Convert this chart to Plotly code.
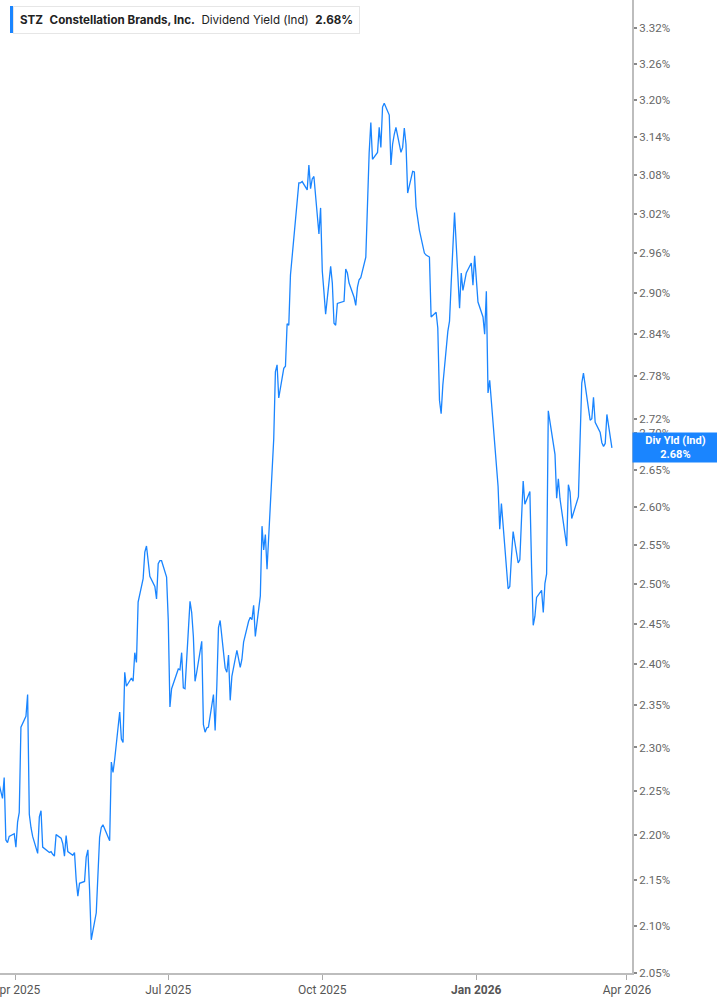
import pandas as pd
import plotly.graph_objects as go
import math

# ---- data -------------------------------------------------------------
start_date = "2025-03-21"
end_date = "2026-03-23"
market_holidays = ["2025-04-18", "2025-05-26", "2025-06-19", "2025-07-04",
                   "2025-09-01", "2025-11-27", "2025-12-25", "2026-01-01",
                   "2026-01-19", "2026-02-16"]

div_yield = [
    2.265, 2.241, 2.265, 2.194, 2.191, 2.198, 2.201, 2.186, 2.214, 2.225,
    2.324, 2.337, 2.363, 2.223, 2.208, 2.198, 2.179, 2.220, 2.227, 2.186,
    2.180, 2.181, 2.178, 2.176, 2.200, 2.196, 2.190, 2.176, 2.199, 2.181,
    2.177, 2.180, 2.150, 2.132, 2.146, 2.148, 2.175, 2.183, 2.139, 2.085,
    2.114, 2.158, 2.197, 2.208, 2.211, 2.193, 2.283, 2.271, 2.286, 2.342,
    2.310, 2.306, 2.390, 2.373, 2.383, 2.379, 2.414, 2.402, 2.477, 2.507,
    2.541, 2.549, 2.510, 2.497, 2.481, 2.526, 2.530, 2.530, 2.509, 2.455,
    2.348, 2.370, 2.394, 2.393, 2.414, 2.371, 2.370, 2.478, 2.464, 2.434,
    2.379, 2.390, 2.428, 2.327, 2.318, 2.323, 2.324, 2.363, 2.320, 2.373,
    2.445, 2.454, 2.395, 2.390, 2.411, 2.356, 2.385, 2.417, 2.404, 2.396,
    2.406, 2.427, 2.453, 2.458, 2.455, 2.473, 2.434, 2.485, 2.575, 2.544,
    2.564, 2.519, 2.692, 2.786, 2.796, 2.749, 2.791, 2.794, 2.855, 2.853,
    2.927, 3.012, 3.028, 3.068, 3.068, 3.070, 3.057, 3.096, 3.059, 3.074,
    3.078, 2.989, 3.029, 2.933, 2.902, 2.869, 2.940, 2.915, 2.856, 2.853,
    2.885, 2.887, 2.888, 2.936, 2.930, 2.915, 2.894, 2.882, 2.909, 2.920,
    2.923, 2.954, 3.037, 3.115, 3.164, 3.105, 3.116, 3.156, 3.124, 3.189,
    3.195, 3.176, 3.096, 3.129, 3.145, 3.156, 3.116, 3.124, 3.155, 3.129,
    3.052, 3.086, 3.085, 3.031, 2.995, 2.960, 2.957, 2.956, 2.954, 2.865,
    2.872, 2.849, 2.746, 2.727, 2.767, 2.844, 2.859, 2.915, 2.983, 3.022,
    2.878, 2.930, 2.904, 2.930, 2.945, 2.912, 2.956, 2.887, 2.865, 2.840,
    2.903, 2.756, 2.774, 2.687, 2.668, 2.628, 2.571, 2.605, 2.494, 2.497,
    2.535, 2.568, 2.527, 2.531, 2.584, 2.635, 2.604, 2.621, 2.523, 2.448,
    2.459, 2.483, 2.492, 2.464, 2.501, 2.513, 2.731, 2.671, 2.612, 2.638,
    2.611, 2.561, 2.549, 2.630, 2.620, 2.585, 2.607, 2.614, 2.692, 2.770,
    2.784, 2.736, 2.718, 2.720, 2.750, 2.715, 2.701, 2.687, 2.682, 2.686,
    2.726, 2.680,
]

y_tick_vals = [2.05, 2.10, 2.15, 2.20, 2.25, 2.30, 2.35, 2.40, 2.45, 2.50,
               2.55, 2.60, 2.65, 2.70, 2.72, 2.78, 2.84, 2.90, 2.96, 3.02,
               3.08, 3.14, 3.20, 3.26, 3.32]
x_tick_vals = ["2025-04-01", "2025-07-01", "2025-10-01", "2026-01-01", "2026-04-01"]
x_tick_text = ["Apr 2025", "Jul 2025", "Oct 2025", "<b>Jan 2026</b>", "Apr 2026"]

ticker = "STZ"
company = "Constellation Brands, Inc."
metric = "Dividend Yield (Ind)"
short_metric = "Div Yld (Ind)"
last_value = div_yield[-1]

# ---- figure -----------------------------------------------------------
dates = pd.bdate_range(start_date, end_date, freq="C", holidays=market_holidays)
dates = dates[:len(div_yield)]

LINE = "#1a85ff"

fig = go.Figure()
fig.add_trace(go.Scatter(
    x=dates, y=div_yield, mode="lines",
    line=dict(color=LINE, width=1.3),
    hoverinfo="skip", showlegend=False,
))

fig.update_layout(
    width=717, height=1005,
    margin=dict(l=0, r=85, t=0, b=32),
    paper_bgcolor="white", plot_bgcolor="white",
    font=dict(family="Roboto, Arial, sans-serif", color="#666666", size=11),
    showlegend=False,
)

fig.update_xaxes(
    range=["2025-03-22 12:00", "2026-04-04"],
    automargin=False,
    tickvals=x_tick_vals, ticktext=x_tick_text,
    showgrid=False, zeroline=False,
    showline=True, linecolor="#bdbdbd", linewidth=1.5,
    ticks="outside", ticklen=5, tickcolor="#aaaaaa", tickwidth=1,
    ticklabeloverflow="allow",
    tickfont=dict(size=12, color="#555555", family="Roboto, Arial, sans-serif"),
)

fig.update_yaxes(
    type="log",
    range=[math.log10(2.05), math.log10(3.368)],
    automargin=False,
    side="right",
    tickvals=y_tick_vals,
    ticktext=[f"{v:.2f}%" for v in y_tick_vals],
    showgrid=False, zeroline=False,
    showline=True, linecolor="#bdbdbd", linewidth=2,
    ticks="outside", ticklen=3, tickcolor="#888888", tickwidth=2,
    tickfont=dict(size=11.5, color="#666666"),
)

# header box
nb = "\u00a0"
header = (f"<b>{ticker}</b>{nb} <b>{company}</b>{nb} {metric}{nb} <b>{last_value:.2f}%</b>")
fig.add_annotation(
    xref="paper", yref="paper", x=13 / 632, y=1 - 6 / 973,
    xanchor="left", yanchor="top", showarrow=False,
    text=header, align="left",
    font=dict(family="Inter, Arial, sans-serif", size=11.6, color="#222222"),
    bgcolor="white", bordercolor="#e6e6e6", borderwidth=1, borderpad=6,
)
fig.add_shape(
    type="rect", xref="paper", yref="paper",
    x0=10 / 632, x1=13.5 / 632, y0=1 - 33 / 973, y1=1 - 6 / 973,
    fillcolor=LINE, line=dict(width=0), layer="above",
)

# last value label on the right
fig.add_annotation(
    xref="paper", yref="y", x=1, y=math.log10(last_value),
    xanchor="left", yanchor="middle", showarrow=False,
    text=f"<b>{short_metric}</b><br><b>{last_value:.2f}%</b>",
    font=dict(family="Roboto, Arial, sans-serif", size=11, color="white"),
    bgcolor=LINE, borderpad=1, width=83, align="center",
)

fig.write_html(
    "out.html",
    config={"displayModeBar": False},
    post_script="document.body.style.margin='0';document.body.style.overflow='hidden';",
)
